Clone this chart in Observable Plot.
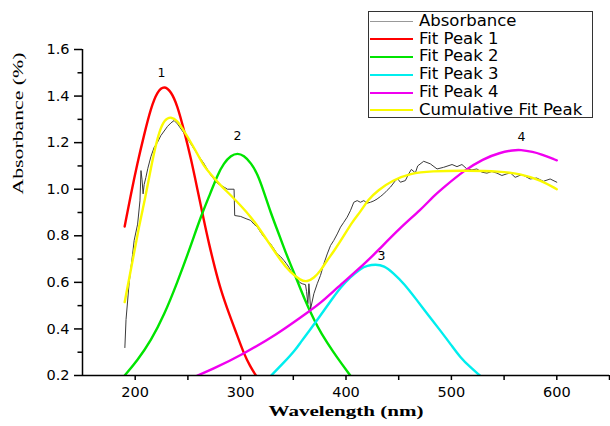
<!DOCTYPE html>
<html>
<head>
<meta charset="utf-8">
<script src="https://cdn.jsdelivr.net/npm/d3@7"></script>
<script src="https://cdn.jsdelivr.net/npm/@observablehq/plot@0.6"></script>
<style>
  html, body { margin: 0; padding: 0; background: #fff; }
  #wrap { position: relative; width: 610px; height: 426px; overflow: hidden; }
  #legend { position: absolute; left: 368px; top: 11px; width: 223px; height: 105px;
            border: 1px solid #333; background: #fff; font-family: "DejaVu Sans", sans-serif;
            font-size: 16.5px; color: #000; }
  .row { position: absolute; left: 1px; height: 18px; line-height: 18px; white-space: nowrap; }
  .sw { display: inline-block; width: 43px; vertical-align: middle; margin-right: 6px; }
</style>
</head>
<body>
<div id="wrap"></div>
<script>
// ---- data (wavelength nm, value) ----
const absorbance = [
  [190.2,0.32],[191.3,0.44],[192.8,0.52],[194.3,0.60],[197.5,0.72],[199,0.78],[202.3,0.85],
  [204.5,0.95],[205.5,1.08],[206.5,1.04],[207.5,0.98],[208.5,1.02],[210.1,1.05],[212,1.09],
  [214.9,1.14],[218,1.18],[221,1.2],[224.3,1.23],[227.5,1.25],[230.7,1.27],[234,1.285],[236.9,1.295],
  [240.2,1.28],[246.4,1.24],[252.7,1.195],[259.1,1.15],[265.3,1.11],[271.7,1.06],[278,1.025],
  [284.3,1.009],[287.5,1.0],[293.8,1.0],[294.4,0.887],[300.1,0.883],[303.2,0.877],[306,0.872],
  [309.6,0.866],[312.7,0.85],[315.9,0.837],[319,0.815],[322.2,0.794],[325.4,0.78],[328.5,0.765],
  [331.5,0.745],[334.8,0.722],[338,0.71],[341.1,0.694],[343.5,0.68],[345.8,0.665],[349,0.64],
  [351.5,0.625],[353.8,0.612],[356,0.60],[358.5,0.594],[361.6,0.59],[362.6,0.56],[363.8,0.508],
  [364.8,0.594],[365.5,0.55],[366.4,0.486],[369.5,0.551],[372.7,0.594],[375.8,0.63],[379,0.68],
  [382.2,0.722],[385.3,0.758],[388.4,0.78],[391.7,0.808],[394.8,0.837],[397.9,0.858],[401.1,0.88],
  [404.2,0.908],[407.4,0.944],[410.6,0.951],[413.7,0.944],[416.9,0.951],[420,0.94],[423.2,0.944],
  [426.5,0.95],[429.5,0.958],[432.5,0.968],[435.8,0.98],[439,0.995],[442.2,1.009],[446.9,1.037],
  [449,1.045],[451.6,1.03],[456.3,1.037],[459.5,1.066],[462,1.085],[465.8,1.07],[468,1.10],
  [473.7,1.12],[480,1.109],[486.4,1.087],[492.6,1.094],[500.6,1.106],[505.3,1.097],[510,1.106],
  [514.8,1.087],[519.5,1.083],[524.2,1.087],[529,1.073],[533.7,1.069],[538.4,1.076],[543.2,1.069],
  [547.9,1.059],[552.6,1.066],[556,1.07],[560.5,1.051],[566.9,1.063],[574.7,1.044],[581,1.048],
  [587.3,1.034],[593.7,1.044],[600,1.03]
];
const fitPeak1 = [
  [190,0.84],[196,0.98],[202,1.11],[208.5,1.235],[215,1.35],[221,1.42],[227.5,1.445],[234,1.42],
  [240,1.36],[246.5,1.25],[253,1.13],[259,1.0],[265,0.87],[270,0.765],[276,0.655],[281,0.57],
  [289,0.465],[297,0.37],[303,0.295],[309,0.24],[314.5,0.2]
];
const fitPeak2 = [
  [190,0.2],[202,0.264],[215,0.35],[227.5,0.46],[240,0.6],[253,0.76],[262,0.88],[272,0.99],
  [278,1.06],[284,1.112],[291,1.145],[297,1.155],[303,1.145],[310,1.112],[316,1.066],[322,0.99],
  [328.5,0.9],[335,0.823],[341,0.75],[347,0.68],[354,0.605],[360,0.535],[370,0.435],[376,0.385],
  [388,0.3],[396,0.25],[404,0.2]
];
const fitPeak3 = [
  [329,0.2],[341,0.255],[352,0.31],[357,0.343],[364,0.385],[373,0.44],[388,0.536],[395,0.579],
  [404,0.622],[414,0.66],[420,0.672],[428,0.677],[436,0.672],[445,0.64],[455,0.595],[467,0.525],
  [478,0.46],[490,0.39],[500,0.33],[508,0.28],[518,0.235],[527,0.2]
];
const fitPeak4 = [
  [259,0.2],[272,0.224],[303,0.293],[335,0.379],[357,0.45],[366,0.479],[376,0.512],[390,0.57],
  [420,0.69],[430,0.735],[452,0.837],[471,0.912],[483,0.97],[493,1.009],[512,1.08],[530,1.13],
  [546,1.157],[559,1.168],[565,1.17],[578,1.16],[584,1.152],[600,1.124]
];
const cumulativeFit = [
  [190,0.515],[197,0.68],[204,0.85],[209,0.95],[214,1.07],[219,1.18],[223,1.25],[228,1.3],
  [234,1.312],[240,1.295],[246,1.252],[253,1.2],[259,1.152],[265,1.10],[272,1.062],[281,1.016],
  [291,0.973],[300,0.93],[310,0.88],[319,0.823],[328.5,0.758],[338,0.694],[347,0.643],[357,0.608],
  [363,0.602],[369.5,0.618],[376,0.651],[382,0.694],[388,0.73],[398,0.80],[406,0.86],[414,0.905],
  [421,0.955],[430,0.995],[445,1.04],[461,1.068],[480,1.078],[515,1.08],[546,1.077],[565,1.066],
  [584,1.04],[600,1.0]
];
const peakLabels = [["1",225,1.50],["2",297,1.23],["3",433.7,0.715],["4",566.5,1.226]];
const seriesNames = ["Absorbance","Fit Peak 1","Fit Peak 2","Fit Peak 3","Fit Peak 4","Cumulative Fit Peak"];
const xTicks = [200,250,300,350,400,450,500,550,600,650];
const yMajorTicks = [0.2,0.4,0.6,0.8,1.0,1.2,1.4,1.6];
const yMinorTicks = [0.3,0.5,0.7,0.9,1.1,1.3,1.5];
const xTitle = "Wavelength (nm)";
const yTitle = "Absorbance (%)";

// ---- styling ----
const colors = ["#3a3a3a","#ff0000","#00e400","#00eeee","#f000f0","#fafa00"];
const fits = [fitPeak1, fitPeak2, fitPeak3, fitPeak4, cumulativeFit];

const chart = Plot.plot({
  width: 610, height: 426,
  marginLeft: 82, marginRight: 1, marginTop: 49, marginBottom: 51,
  style: {fontFamily: "DejaVu Sans, sans-serif", fontSize: "14.5px", color: "#000", background: "#fff"},
  x: {domain: [150, 650]},
  y: {domain: [0.2, 1.6]},
  marks: [
    Plot.line(absorbance, {x: d => d[0], y: d => d[1], stroke: colors[0], strokeWidth: 1}),
    ...fits.map((f, i) => Plot.line(f, {x: d => d[0], y: d => d[1], stroke: colors[i + 1],
      strokeWidth: 2.4, curve: "basis", clip: true})),
    Plot.text(peakLabels, {x: d => d[1], y: d => d[2], text: d => d[0], fontSize: 12.5, fill: "#000"}),
    Plot.ruleY([0.2], {stroke: "#000", strokeWidth: 1.5}),
    Plot.ruleX([150], {stroke: "#000", strokeWidth: 1.5}),
    Plot.axisX({ticks: xTicks, tickSize: 5, tickPadding: 6, strokeWidth: 1.5,
      tickFormat: d => d % 100 === 0 ? String(d) : "", label: null}),
    Plot.axisY({ticks: yMajorTicks, tickSize: 8, tickPadding: 5, strokeWidth: 1.5,
      tickFormat: d => d.toFixed(1), label: null}),
    Plot.axisY({ticks: yMinorTicks, tickSize: 4.5, strokeWidth: 1.5, tickFormat: () => "", label: null}),
    Plot.text([xTitle], {frameAnchor: "bottom", dy: 40, text: d => d, fontFamily: "Liberation Serif",
      fontWeight: "bold", fontSize: 14, fill: "#000"}),
    Plot.text([yTitle], {frameAnchor: "left", dx: -64, dy: -18, rotate: -90, text: d => d,
      fontFamily: "Liberation Serif", fontSize: 14, fill: "#000"})
  ]
});

d3.select(chart).selectAll("text").each(function() {
  const t = this.textContent;
  if (t === xTitle) d3.select(this).attr("textLength", 155).attr("lengthAdjust", "spacingAndGlyphs");
  if (t === yTitle) d3.select(this).attr("textLength", 142).attr("lengthAdjust", "spacingAndGlyphs");
});

const wrap = document.getElementById("wrap");
wrap.appendChild(chart);

// ---- legend ----
const legend = document.createElement("div");
legend.id = "legend";
seriesNames.forEach((name, i) => {
  const row = document.createElement("div");
  row.className = "row";
  row.style.top = (-0.3 + 17.85 * i) + "px";
  const sw = document.createElement("span");
  sw.className = "sw";
  sw.style.height = i === 0 ? "1px" : "2px";
  sw.style.background = i === 0 ? "#999" : colors[i];
  row.appendChild(sw);
  row.appendChild(document.createTextNode(name));
  legend.appendChild(row);
});
wrap.appendChild(legend);
</script>
</body>
</html>
